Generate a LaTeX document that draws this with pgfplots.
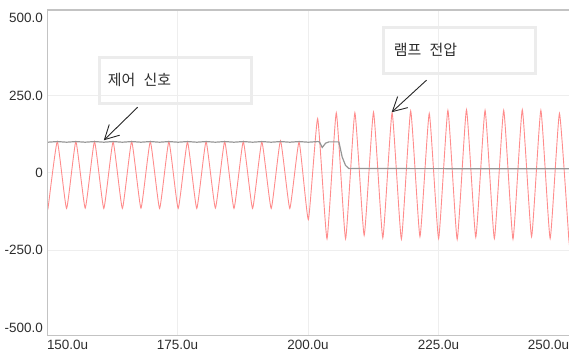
\documentclass[border=0pt]{standalone}
\usepackage{pgfplots}
\usepackage{pgfplotstable}
\pgfplotsset{compat=1.18}
\usepackage{fontspec}
\setmainfont{Liberation Sans}
\newfontfamily\kofont{Noto Sans CJK KR}
\usetikzlibrary{arrows.meta}

\definecolor{lampred}{RGB}{255,140,140}
\definecolor{ctrlgray}{RGB}{150,150,150}
\definecolor{framegray}{RGB}{195,195,195}
\definecolor{gridgray}{RGB}{238,238,238}
\definecolor{boxgray}{RGB}{236,236,236}
\definecolor{labeltext}{RGB}{45,45,45}

% lamp voltage: turning points of the waveform (time in us, volts)
\pgfplotstableread{
t v
150.00 -105
150.19 -115
151.97 101
153.75 -115
155.53 101
157.32 -114
159.10 101
160.88 -115
162.66 100
164.44 -115
166.22 101
168.00 -114
169.79 101
171.57 -115
173.35 101
175.13 -115
176.91 100
178.69 -115
180.47 101
182.26 -114
184.04 101
185.82 -115
187.60 101
189.38 -115
191.16 100
192.95 -115
194.73 104
196.51 -115
198.29 100
200.07 -151
201.85 175
203.64 -213
205.42 194
207.20 -213
208.98 194
210.76 -202
212.55 196
214.33 -210
216.11 194
217.89 -214
219.67 200
221.45 -206
223.23 192
225.02 -212
226.80 202
228.58 -215
230.36 204
232.14 -208
233.92 202
235.70 -212
237.49 202
239.27 -214
241.05 204
242.83 -206
244.61 202
246.39 -212
248.17 192
249.95 -210
250.00 -209
}\lampdata

% control signal
\pgfplotstableread{
t v
150.00 99.5
150.19 99.0
151.97 101.0
153.75 99.0
155.53 101.0
157.32 99.0
159.10 101.0
160.88 99.0
162.66 101.0
164.44 99.0
166.22 101.0
168.00 99.0
169.79 101.0
171.57 99.0
173.35 101.0
175.13 99.0
176.91 101.0
178.69 99.0
180.47 101.0
182.26 99.0
184.04 101.0
185.82 99.0
187.60 101.0
189.38 99.0
191.16 101.0
192.95 99.0
194.73 101.0
196.51 99.0
198.29 101.0
200.07 99.0
201.85 101.0
202.20 100.0
202.73 82.0
203.38 96.0
204.00 100.0
205.92 100.0
206.55 51.0
207.19 24.0
207.82 14.0
250.00 13.0
}\ctrldata

\begin{document}
\begin{tikzpicture}
\useasboundingbox (-47bp,-17.3bp) rectangle (522bp,335.7bp);
\begin{axis}[
  at={(0,0)}, anchor=south west,
  scale only axis,
  width=522bp, height=325.7bp,
  xmin=150, xmax=250,
  ymin=-526, ymax=526,
  axis line style={draw=none},
  major tick length=0pt,
  xtick={150,175,200,225,250},
  xticklabels={{\makebox[0pt][l]{150.0u}},175.0u,200.0u,225.0u,{\makebox[0pt][r]{250.0u}}},
  ytick={-500,-250,0,250,500},
  yticklabels={-500.0,-250.0,0,250.0,500.0},
  extra x ticks={175,200,225},
  extra x tick labels={},
  extra x tick style={xmajorgrids=true},
  extra y ticks={-250,0,250},
  extra y tick labels={},
  extra y tick style={ymajorgrids=true},
  major grid style={draw=gridgray, line width=0.8bp},
  xticklabel style={font=\fontsize{13.5}{16}\selectfont, text=labeltext,
    anchor=north, inner sep=0pt, yshift=-4bp},
  yticklabel style={font=\fontsize{13.5}{16}\selectfont, text=labeltext,
    anchor=east, inner sep=0pt, xshift=-4bp},
  clip=true,
]
\addplot[lampred, line width=0.9bp, mark=none, smooth, tension=0.25] table[x=t, y=v] {\lampdata};
\addplot[ctrlgray, line width=1.2bp, mark=none] table[x=t, y=v] {\ctrldata};

% frame: left, bottom and top edges
\draw[framegray, line width=1.4bp] (rel axis cs:1,1) -- (rel axis cs:0,1) -- (rel axis cs:0,0) -- (rel axis cs:1,0);

% annotation boxes
\draw[boxgray, line width=3bp] (axis cs:160.11,373.8) rectangle (axis cs:189.12,224.9);
\draw[boxgray, line width=3bp] (axis cs:214.50,470.9) rectangle (axis cs:243.51,322.0);
\node[anchor=west, inner sep=0pt, text=labeltext, font=\kofont\fontsize{15}{17}\selectfont]
  at (axis cs:161.64,299.4) {제어\hspace{0.55em}신호};
\node[anchor=west, inner sep=0pt, text=labeltext, font=\kofont\fontsize{15}{17}\selectfont]
  at (axis cs:216.41,396.4) {램프\hspace{0.55em}전압};

% pointers
\draw[black!85, line width=0.9bp, -{Straight Barb[length=14bp,width=15bp]}]
  (axis cs:167.37,212.0) -- (axis cs:160.88,105.2);
\draw[black!85, line width=0.9bp, -{Straight Barb[length=14bp,width=15bp]}]
  (axis cs:222.71,299.4) -- (axis cs:216.03,195.8);
\end{axis}
\end{tikzpicture}
\end{document}
